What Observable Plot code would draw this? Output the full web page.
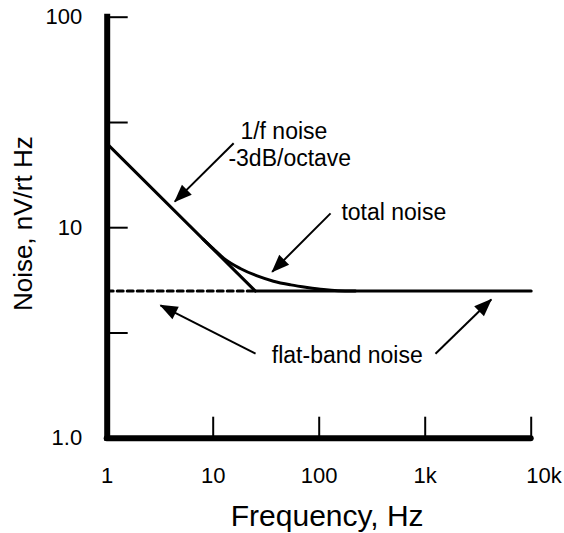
<!DOCTYPE html>
<html><head><meta charset="utf-8">
<script src="https://cdn.jsdelivr.net/npm/d3@7"></script>
<script src="https://cdn.jsdelivr.net/npm/@observablehq/plot@0.6"></script>
<style>body{margin:0;background:#fff} #chart svg{display:block}</style>
</head><body><div id="chart"></div>
<script>
// ---- data ----
const oneOverFFreq = [1, 25];
const oneOverFNoise = [25, 5];
const flatFreq = [25, 10000];
const flatNoise = [5, 5];
const dashFreq = [1, 25];
const dashNoise = [5, 5];
const totalFreq = [8, 10, 12.6, 18, 26, 37, 54, 77, 110, 150, 220];
const totalNoise = [8.84, 7.95, 7.15, 6.4, 5.9, 5.57, 5.35, 5.2, 5.08, 5.02, 5.0];
const xTicks = [1, 10, 100, 1000, 10000];
const xTickLabels = ["1", "10", "100", "1k", "10k"];
const yTicks = [1, 10, 100];
const yTickLabels = ["1.0", "10", "100"];
const yTickMarks = [3.16, 10, 31.6, 100];
const annoText = ["1/f noise", "-3dB/octave", "total noise", "flat-band noise"];
const annoFreq = [46.4, 52.8, 506, 184];
const annoNoise = [28.7, 21.2, 11.8, 2.48];
const arrowFromFreq = [15.6, 128, 25.1, 1250];
const arrowFromNoise = [25.2, 11.7, 2.52, 2.52];
const arrowToFreq = [4.34, 36, 3.18, 4200];
const arrowToNoise = [13.3, 6.17, 4.28, 4.56];
const xTitle = ["Frequency, Hz"];
const yTitle = ["Noise, nV/rt Hz"];

// ---- tables ----
const pts = (xs, ys) => xs.map((x, i) => ({x, y: ys[i]}));
const oneOverF = pts(oneOverFFreq, oneOverFNoise);
const flat = pts(flatFreq, flatNoise);
const dash = pts(dashFreq, dashNoise);
const total = pts(totalFreq, totalNoise);
const annos = annoText.map((t, i) => ({t, x: annoFreq[i], y: annoNoise[i]}));
const arrows = arrowFromFreq.map((x1, i) => ({x1, y1: arrowFromNoise[i], x2: arrowToFreq[i], y2: arrowToNoise[i]}));

const W = 564, H = 533;
const ML = 106.7, MR = 33.3, MT = 16.7, MB = 95.3;
const frameW = W - ML - MR, frameH = H - MT - MB;
const font = "'Liberation Sans', Arial, Helvetica, sans-serif";

const plot = Plot.plot({
  width: W, height: H,
  marginLeft: ML, marginRight: MR, marginTop: MT, marginBottom: MB,
  style: {fontFamily: font, background: "white", color: "black", overflow: "visible"},
  x: {type: "log", domain: [1, 10000]},
  y: {type: "log", domain: [1, 100]},
  marks: [
    Plot.axisX(xTicks.slice(0, 4), {tickSize: 0, tickPadding: 29, fontSize: 22,
      tickFormat: d => xTickLabels[xTicks.indexOf(d)], label: null}),
    Plot.axisX(xTicks.slice(4), {tickSize: 0, tickPadding: 29, fontSize: 22, textAnchor: "start", dx: -5,
      tickFormat: d => xTickLabels[xTicks.indexOf(d)], label: null}),
    Plot.axisY(yTicks, {tickSize: 0, tickPadding: 25, fontSize: 22,
      tickFormat: d => yTickLabels[yTicks.indexOf(d)], label: null}),
    Plot.text(xTitle, {frameAnchor: "bottom", lineAnchor: "middle", textAnchor: "middle",
      text: d => d, dy: 78, dx: 8, fontSize: 30}),
    Plot.text(yTitle, {frameAnchor: "left", lineAnchor: "middle", textAnchor: "middle",
      text: d => d, dx: -84, dy: -4, rotate: -90, fontSize: 26}),
    Plot.ruleX(xTicks.slice(1), {x: d => d, insetTop: frameH - 21, strokeWidth: 2}),
    Plot.ruleY(yTickMarks, {y: d => d, insetRight: frameW - 21, strokeWidth: 2}),
    Plot.line(dash, {x: "x", y: "y", strokeWidth: 3, strokeDasharray: "6,4"}),
    Plot.line(oneOverF, {x: "x", y: "y", strokeWidth: 3, strokeLinejoin: "miter"}),
    Plot.line(flat, {x: "x", y: "y", strokeWidth: 3}),
    Plot.line(total, {x: "x", y: "y", strokeWidth: 3, curve: "monotone-x"}),
    Plot.ruleX([1], {strokeWidth: 6, strokeLinecap: "square"}),
    Plot.ruleY([1], {strokeWidth: 6, strokeLinecap: "round"}),
    Plot.link(arrows, {x1: "x1", y1: "y1", x2: "x2", y2: "y2", strokeWidth: 2, markerEnd: "arrow"}),
    Plot.text(annos, {x: "x", y: "y", text: "t", fontSize: 23})
  ]
});

// filled triangular arrowheads
d3.select(plot).selectAll("marker").each(function () {
  const m = d3.select(this);
  m.attr("viewBox", "-17 -7.5 19 15")
   .attr("markerUnits", "userSpaceOnUse")
   .attr("markerWidth", 19).attr("markerHeight", 15)
   .attr("overflow", "visible")
   .attr("fill", "black").attr("stroke", "none");
  m.selectAll("path").attr("d", "M-17,-7L1,0L-17,7Z").attr("fill", "black").attr("stroke", "none");
});

document.getElementById("chart").appendChild(plot);
</script>
</body></html>
